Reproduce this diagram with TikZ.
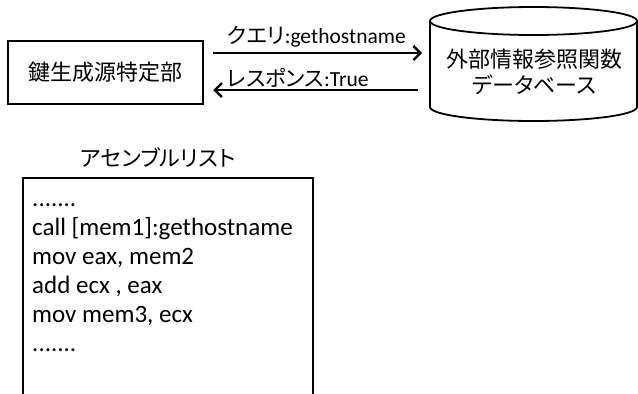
\documentclass[tikz,border=0pt]{standalone}
\usepackage{fontspec}
\setmainfont{Carlito}
\newfontfamily\cjk{Noto Sans CJK JP}
\newfontfamily\cjkp[RawFeature=+palt]{Noto Sans CJK JP}
\usetikzlibrary{arrows.meta,calc}
\begin{document}
\begin{tikzpicture}[x=1pt,y=-1pt,
  box/.style={draw,line width=2.5,inner sep=0},
  arr/.style={line width=2.3,-{Straight Barb[length=7,width=14,line width=2.3]}},
  jp/.style={font=\fontsize{22}{26}\selectfont\cjk},
  lbl/.style={anchor=west,inner sep=0,font=\fontsize{21.5}{25}\selectfont},
  code/.style={anchor=base west,inner sep=0,font=\fontsize{25}{29}\selectfont}]
\useasboundingbox (0,0) rectangle (638,394);
% key generation source identification unit
\node[box,minimum width=195,minimum height=63,jp] (kg) at (105.5,72.5) {鍵生成源特定部};
% database cylinder
\draw[line width=1.8] (533.5,21) ellipse [x radius=103.5, y radius=14];
\draw[line width=1.8] (430,21) -- (430,107) arc[start angle=180, end angle=0, x radius=103.5, y radius=14] -- (637,21);
\coordinate (dbw) at (430,72.5);
\node[jp,align=center,inner sep=0] (db) at (534,72) {外部情報参照関数\\{\cjkp データベース}};
% arrows
\draw[arr] ($(kg.east)+(9,-19.5)$) -- ($(dbw)+(-8,-19.5)$);
\draw[arr] ($(dbw)+(-12,17.5)$) -- ($(kg.east)+(9,17.5)$);
\node[lbl] (q) at (227,37) {{\cjkp クエリ}:gethostname};
\node[lbl] (r) at (227,78) {{\cjkp レスポンス}:True};
% assembly list
\node[font=\fontsize{22}{26}\selectfont\cjkp,inner sep=0] (title) at (158,158) {アセンブルリスト};
\draw[line width=2.8] (23,397) -- (23,178) -- (313,178) -- (313,397);
\node[code] (l1) at (32,206) {.......};
\node[code] (l2) at (32,235) {call [mem1]:gethostname};
\node[code] (l3) at (32,264) {mov eax, mem2};
\node[code] (l4) at (32,293) {add ecx , eax};
\node[code] (l5) at (32,322) {mov mem3, ecx};
\node[code] (l6) at (32,351) {.......};
\end{tikzpicture}
\end{document}
